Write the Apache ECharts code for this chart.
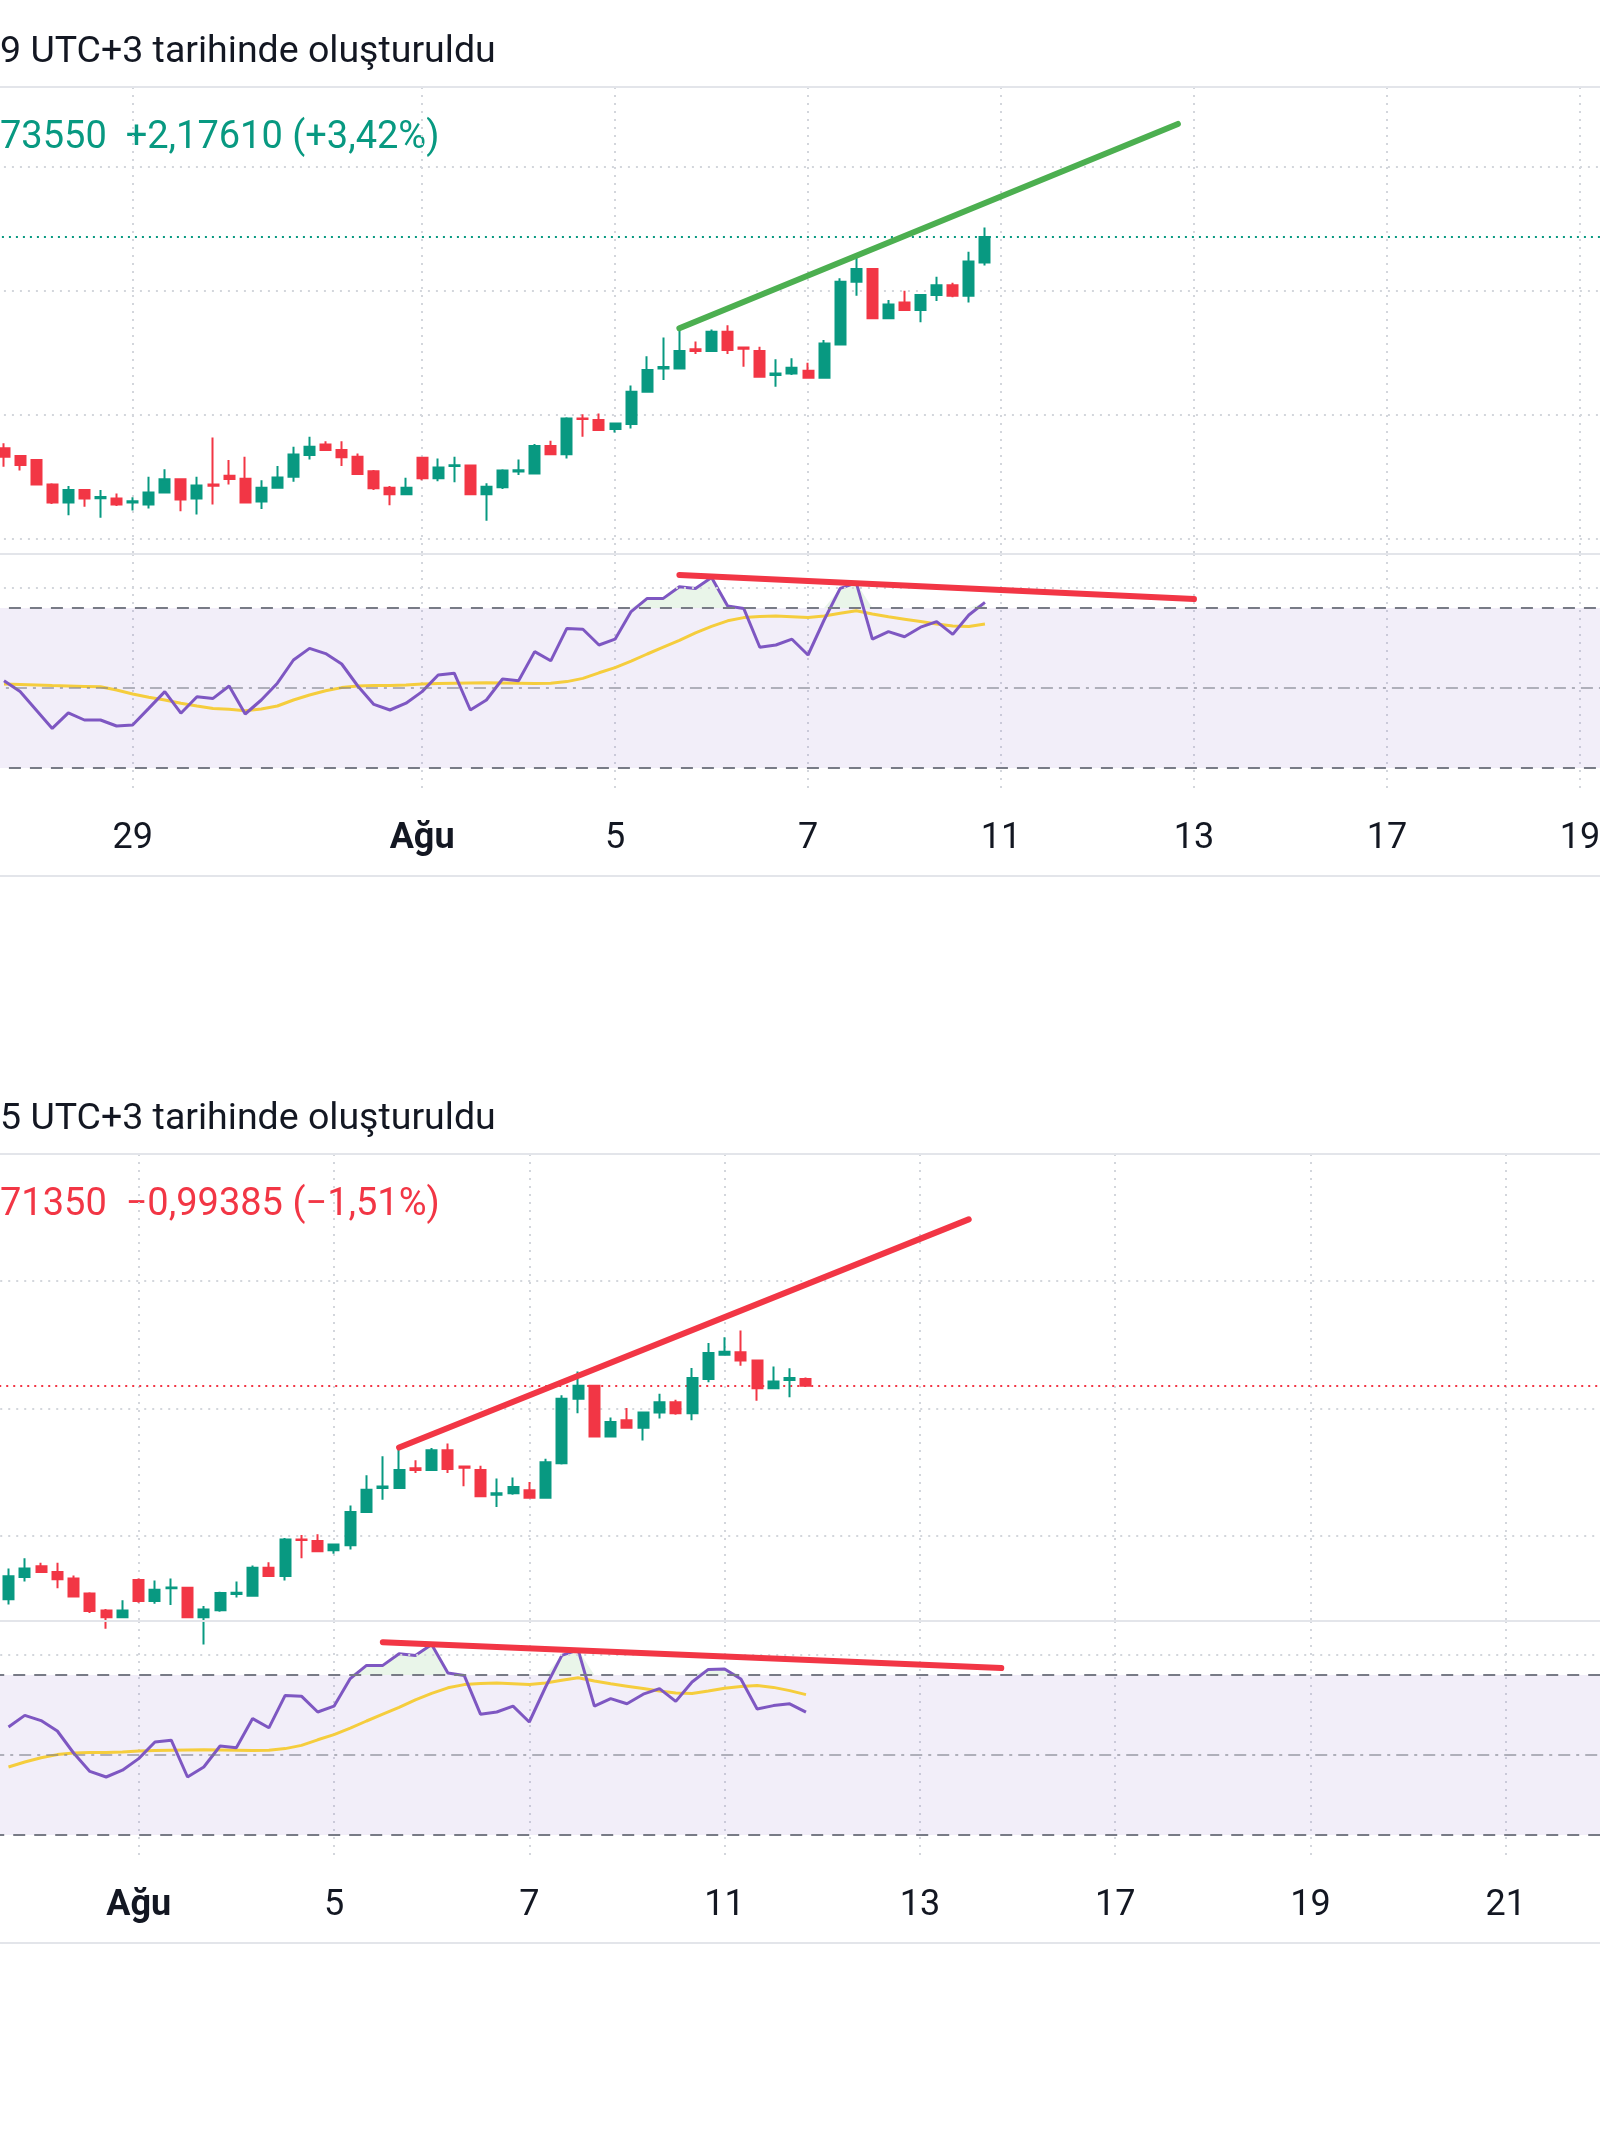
<!DOCTYPE html>
<html><head><meta charset="utf-8">
<script src="https://cdn.jsdelivr.net/npm/echarts@6/dist/echarts.min.js"></script>
<style>html,body{margin:0;padding:0;background:#fff}#c{width:1600px;height:2133px}</style>
</head><body><div id="c"></div>
<script>
// 4H candles, [open, close, low, high]
const ohlc = [
[58.93,58.66,58.33,59.09],[58.68,58.39,58.21,58.70],[58.55,57.76,57.74,58.57],[57.76,57.18,57.13,57.80],
[57.18,57.58,56.77,57.71],[57.58,57.31,57.04,57.60],[57.32,57.36,56.69,57.58],[57.31,57.12,57.07,57.47],
[57.18,57.22,56.92,57.35],[57.12,57.50,56.99,58.01],[57.50,57.93,57.48,58.25],[57.93,57.28,56.90,57.96],
[57.31,57.73,56.79,58.01],[57.76,57.72,57.12,59.28],[58.04,57.94,57.76,58.55],[57.95,57.18,57.16,58.66],
[57.21,57.66,56.97,57.90],[57.66,57.99,57.64,58.36],[58.01,58.73,57.85,58.98],[58.71,58.98,58.57,59.30],
[59.05,58.87,58.84,59.16],[58.87,58.64,58.36,59.16],[58.66,58.10,58.09,58.76],[58.19,57.64,57.58,58.23],
[57.66,57.45,57.09,57.71],[57.45,57.66,57.42,57.98],[58.62,57.96,57.90,58.66],[57.96,58.31,57.87,58.60],
[58.36,58.38,57.83,58.66],[58.37,57.45,57.43,58.40],[57.45,57.69,56.59,57.80],[57.67,58.21,57.62,58.25],
[58.18,58.22,58.07,58.57],[58.12,59.00,58.10,59.07],[59.00,58.74,58.72,59.17],[58.74,59.89,58.60,59.93],
[59.89,59.87,59.30,60.03],[59.84,59.52,59.50,60.05],[59.55,59.73,59.44,59.75],[59.71,60.75,59.57,60.95],
[60.75,61.45,60.72,61.90],[61.50,61.55,61.13,62.50],[61.50,62.07,61.48,62.80],[62.12,62.07,61.97,62.37],
[62.07,62.69,62.04,62.76],[62.69,62.10,61.97,62.90],[62.18,62.14,61.56,62.19],[62.07,61.24,61.22,62.20],
[61.29,61.34,60.91,61.80],[61.34,61.53,61.29,61.83],[61.43,61.20,61.18,61.69],[61.20,62.31,61.18,62.42],
[62.28,64.30,62.24,64.41],[64.30,64.71,63.85,65.16],[64.71,63.12,63.10,64.73],[63.12,63.57,63.09,63.71],
[63.63,63.39,63.37,64.01],[63.39,63.87,62.99,63.89],[63.87,64.19,63.68,64.46],[64.19,63.85,63.80,64.27],
[63.85,64.95,63.63,65.27],[64.92,65.74,64.82,66.05],[65.68,65.78,65.66,66.23],[65.76,65.50,65.34,66.44],
[65.50,64.63,64.24,65.52],[64.63,64.84,64.61,65.31],[64.89,64.95,64.35,65.26],[64.92,64.71,64.69,64.97]
];
const rsi = [51.8,49.1,44.5,39.9,43.8,42.0,42.0,40.5,40.75,44.9,
49.1,43.7,47.8,47.4,50.5,43.5,47.0,51.2,57.0,59.9,
58.6,56.0,50.5,45.9,44.5,46.2,49.1,53.25,53.7,44.5,
47.0,52.25,51.8,59.1,56.8,64.9,64.7,60.75,62.2,69.1,
72.4,72.4,75.3,74.9,77.6,70.5,69.9,60.2,60.75,62.2,
58.25,67.0,74.9,76.3,62.2,64.1,62.8,65.2,66.6,63.4,
68.25,71.4,71.5,69.0,61.5,62.35,62.8,60.7];
const rsiMA = [51.0,50.9,50.75,50.6,50.5,50.4,50.3,49.5,48.5,47.7,
47.0,46.2,45.5,44.9,44.7,44.3,44.75,45.5,47.0,48.25,
49.3,50.1,50.5,50.6,50.6,50.75,51.0,51.1,51.2,51.25,
51.3,51.25,51.2,51.1,51.2,51.6,52.4,53.8,55.1,56.7,
58.5,60.2,61.9,63.8,65.4,66.8,67.6,67.9,68.0,67.8,
67.6,68.0,68.7,69.3,68.5,67.8,67.2,66.6,66.0,65.5,
65.4,66.0,66.7,67.1,67.35,66.9,66.1,65.1];

// chart 1 (top) and chart 2 (bottom)
const topRange = [0, 62];     // candles shown in chart 1
const botRange = [18, 68];    // candles shown in chart 2
const topTickIndex = [8, 26, 38, 50, 62, 74, 86, 98];
const topTickLabels = ['29', 'Ağu', '5', '7', '11', '13', '17', '19'];
const botTickIndex = [8, 20, 32, 44, 56, 68, 80, 92];
const botTickLabels = ['Ağu', '5', '7', '11', '13', '17', '19', '21'];
const topGridValues = [56, 60, 64, 68];
const botGridValues = [60, 64, 68, 72];
const topTrend = [[42, 62.80], [73, 69.39]];
const topRsiTrend = [[42, 78.25], [74, 72.25]];
const botTrend = [[24, 62.77], [59, 69.93]];
const botRsiTrend = [[23, 78.2], [61, 71.75]];
const topLast = 65.7355, botLast = 64.7135;
const topTitle = '9 UTC+3 tarihinde oluşturuldu';
const topPrice = '73550  +2,17610 (+3,42%)';
const botTitle = '5 UTC+3 tarihinde oluşturuldu';
const botPrice = '71350  \u22120,99385 (\u22121,51%)';

const UP = '#089981', DOWN = '#f23645';
const DOT = {color: '#d3d6dc', width: 2, type: [2, 6]};
const P = 1; // one empty slot each side so the panes run past the page edges

function xAxisCfg(gridIndex, n, idx, lab, showLabels) {
  const m = new Map(idx.map((v, j) => [v + P, lab[j]]));
  return {
    type: 'category', gridIndex, boundaryGap: false,
    data: Array.from({length: n + 2 * P}, (_, i) => String(i)),
    axisLine: {show: false}, axisTick: {show: false},
    splitLine: {show: true, interval: (i) => m.has(i), lineStyle: DOT},
    axisLabel: {
      show: showLabels, interval: (i) => m.has(i), margin: 31,
      formatter: (v) => { const l = m.get(+v) || ''; return l === 'Ağu' ? '{b|' + l + '}' : '{n|' + l + '}'; },
      rich: {
        n: {fontFamily: 'Roboto', fontSize: 36, color: '#131722', lineHeight: 40},
        b: {fontFamily: 'Roboto', fontSize: 36, fontWeight: 'bold', color: '#131722', lineHeight: 40}
      }
    }
  };
}
function yAxisCfg(gridIndex, min, max) {
  return {type: 'value', gridIndex, min, max, axisLine: {show: false}, axisTick: {show: false},
    axisLabel: {show: false}, splitLine: {show: false}};
}
const lead = (arr) => ['-'].concat(arr);
function trend(ax, pts, color) {
  return {type: 'line', xAxisIndex: ax, yAxisIndex: ax, data: pts.map(p => [p[0] + P, p[1]]), symbol: 'none', silent: true, z: 6,
    lineStyle: {color, width: 6, cap: 'round'}};
}
function paneSeries(axP, axR, range, gridVals, last, lastColor, tr, rtr, trColor) {
  const c = ohlc.slice(range[0], range[1]);
  const r = rsi.slice(range[0], range[1]);
  const ma = rsiMA.slice(range[0], range[1]);
  return [
    {type: 'candlestick', xAxisIndex: axP, yAxisIndex: axP, data: lead(c), barWidth: 10.5,
      itemStyle: {color: UP, color0: DOWN, borderColor: UP, borderColor0: DOWN, borderWidth: 2},
      markLine: {silent: true, symbol: 'none', z: 1, label: {show: false},
        data: gridVals.map(v => ({yAxis: v, lineStyle: DOT})).concat([{yAxis: last, lineStyle: {color: lastColor, width: 2, type: [2, 5]}}])}},
    trend(axP, tr, trColor),
    {type: 'line', xAxisIndex: axR, yAxisIndex: axR, data: lead(r.map(v => Math.max(v, 70))), symbol: 'none', silent: true, z: 1,
      lineStyle: {width: 0, opacity: 0}, areaStyle: {origin: 70, color: 'rgba(76,175,80,0.18)'},
      markArea: {silent: true, itemStyle: {color: 'rgba(126,87,194,0.10)'}, data: [[{yAxis: 30}, {yAxis: 70}]]},
      markLine: {silent: true, symbol: 'none', label: {show: false}, data: [
        {yAxis: 75, lineStyle: DOT},
        {yAxis: 70, lineStyle: {color: '#787b86', width: 2, type: [12, 9]}},
        {yAxis: 50, lineStyle: {color: 'rgba(120,123,134,0.55)', width: 2, type: [12, 6, 3, 6]}},
        {yAxis: 30, lineStyle: {color: '#787b86', width: 2, type: [12, 9]}}
      ]}},
    {type: 'line', xAxisIndex: axR, yAxisIndex: axR, data: lead(ma), symbol: 'none', silent: true, z: 3,
      lineStyle: {color: '#f5cd3d', width: 3}},
    {type: 'line', xAxisIndex: axR, yAxisIndex: axR, data: lead(r), symbol: 'none', silent: true, z: 4,
      lineStyle: {color: '#7e57c2', width: 3}},
    trend(axR, rtr, DOWN)
  ];
}
function sep(y) { return {type: 'rect', silent: true, z: 10, shape: {x: 0, y, width: 1600, height: 2}, style: {fill: '#e3e5ea'}}; }
function txt(s, top, color, size) { return {type: 'text', silent: true, left: 0, top, style: {text: s, fontFamily: 'Roboto', fontSize: size, fill: color}}; }

const chart = echarts.init(document.getElementById('c'), null, {renderer: 'canvas', width: 1600, height: 2133});
const g = (left, right, top, height) => ({left, right, top, height, containLabel: false, outerBoundsMode: 'none'});
chart.setOption({
  animation: false,
  backgroundColor: '#ffffff',
  grid: [g(-12.08, -12.08, 87, 467), g(-12.08, -12.08, 554, 234), g(-7.78, -3.45, 1154, 467), g(-7.78, -3.45, 1621, 234)],
  xAxis: [
    xAxisCfg(0, 100, topTickIndex, topTickLabels, false),
    xAxisCfg(1, 100, topTickIndex, topTickLabels, true),
    xAxisCfg(2, 98, botTickIndex, botTickLabels, false),
    xAxisCfg(3, 98, botTickIndex, botTickLabels, true)
  ],
  yAxis: [yAxisCfg(0, 55.52, 70.58), yAxisCfg(1, 25, 83.5), yAxisCfg(2, 57.33, 71.98), yAxisCfg(3, 25, 83.5)],
  series: paneSeries(0, 1, topRange, topGridValues, topLast, UP, topTrend, topRsiTrend, '#4caf50')
    .concat(paneSeries(2, 3, botRange, botGridValues, botLast, DOWN, botTrend, botRsiTrend, DOWN)),
  graphic: [
    sep(86), sep(553), sep(875), sep(1153), sep(1620), sep(1942),
    txt(topTitle, 34, '#131722', 37.5), txt(topPrice, 119, UP, 38),
    txt(botTitle, 1101, '#131722', 37.5), txt(botPrice, 1186, DOWN, 38)
  ]
});
</script></body></html>
